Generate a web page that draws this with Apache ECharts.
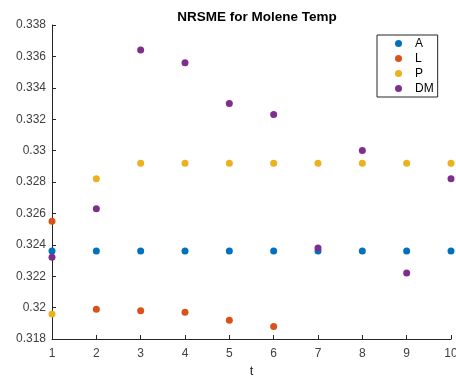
<!DOCTYPE html>
<html>
<head>
<meta charset="utf-8">
<script src="https://cdn.jsdelivr.net/npm/echarts@6/dist/echarts.min.js"></script>
<style>
  html, body { margin: 0; padding: 0; background: #fff; }
  #main { width: 456px; height: 377px; }
</style>
</head>
<body>
<div id="main"></div>
<script>
// data
var tValues = [1, 2, 3, 4, 5, 6, 7, 8, 9, 10];
var seriesNames = ['A', 'L', 'P', 'DM'];
var valuesA = [0.3236, 0.3236, 0.3236, 0.3236, 0.3236, 0.3236, 0.3236, 0.3236, 0.3236, 0.3236];
var valuesL = [0.3255, 0.3199, 0.3198, 0.3197, 0.3192, 0.3188];
var valuesP = [0.3196, 0.3282, 0.3292, 0.3292, 0.3292, 0.3292, 0.3292, 0.3292, 0.3292, 0.3292];
var valuesDM = [0.3232, 0.3263, 0.3364, 0.3356, 0.3330, 0.3323, 0.3238, 0.3300, 0.3222, 0.3282];
var colors = ['#0072BD', '#D95319', '#EDB120', '#7E2F8E'];

function pairs(vals) {
    var out = [];
    for (var i = 0; i < vals.length; i++) {
        out.push([tValues[i], vals[i]]);
    }
    return out;
}

var allValues = [valuesA, valuesL, valuesP, valuesDM];
var series = [];
for (var k = 0; k < seriesNames.length; k++) {
    series.push({
        name: seriesNames[k],
        type: 'scatter',
        symbol: 'circle',
        symbolSize: 7,
        itemStyle: { color: colors[k], opacity: 1 },
        data: pairs(allValues[k])
    });
}

var myChart = echarts.init(document.getElementById('main'));
var axisColor = '#262626';
var option = {
    animation: false,
    color: colors,
    textStyle: { fontFamily: 'Liberation Sans, Arial, sans-serif' },
    title: {
        text: 'NRSME for Molene Temp',
        left: 252,
        textAlign: 'center',
        top: 5,
        textStyle: { fontSize: 13.5, fontWeight: 'bold', color: '#000' }
    },
    legend: {
        data: seriesNames,
        orient: 'vertical',
        left: 377,
        top: 35,
        padding: [1, 4, 1, 18],
        itemGap: 0,
        itemWidth: 7,
        itemHeight: 7,
        icon: 'circle',
        borderColor: axisColor,
        borderWidth: 1,
        backgroundColor: '#fff',
        textStyle: { fontSize: 12, color: '#000', lineHeight: 15, padding: [0, 0, 0, 8] }
    },
    grid: { left: 52, right: 5, top: 25, bottom: 38, containLabel: false, outerBoundsMode: 'none' },
    xAxis: {
        type: 'value',
        min: 1,
        max: 10,
        interval: 1,
        name: 't',
        nameLocation: 'middle',
        nameGap: 26,
        nameTextStyle: { fontSize: 13, color: '#262626' },
        axisLine: { show: true, lineStyle: { color: axisColor } },
        axisTick: { show: true, inside: true, length: 4, lineStyle: { color: axisColor } },
        axisLabel: { fontSize: 12, color: '#404040', margin: 9 },
        splitLine: { show: false }
    },
    yAxis: {
        type: 'value',
        min: 0.318,
        max: 0.338,
        interval: 0.002,
        axisLine: { show: true, lineStyle: { color: axisColor } },
        axisTick: { show: true, inside: true, length: 4, lineStyle: { color: axisColor } },
        axisLabel: { fontSize: 12, color: '#404040', margin: 6 },
        splitLine: { show: false }
    },
    series: series
};
myChart.setOption(option);

window.addEventListener('resize', function () {
    myChart.resize();
});
</script>
</body>
</html>
